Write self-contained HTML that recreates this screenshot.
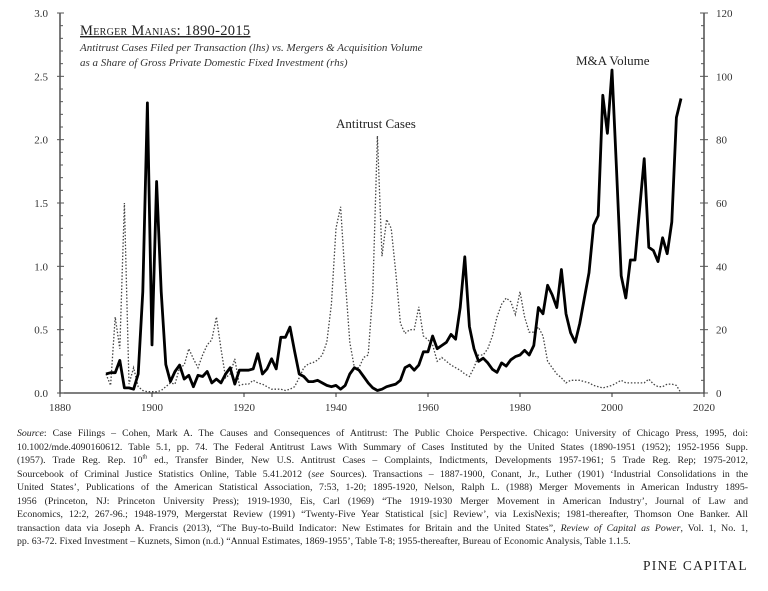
<!DOCTYPE html>
<html><head><meta charset="utf-8"><style>
body{margin:0;background:#fff;width:768px;height:591px;overflow:hidden;font-family:"Liberation Serif",serif;color:#222}
#src{position:absolute;left:17px;top:427px;width:731px;font-size:9.8px;line-height:13.5px}
#src div{text-align:justify;text-align-last:justify;white-space:nowrap;overflow:hidden;height:13.5px}
#src div.last{text-align-last:left}
#src sup{font-size:6px;line-height:0}
#brand{position:absolute;left:643px;top:558px;font-size:13.5px;letter-spacing:1.3px}
</style></head><body>
<svg id="chart" width="768" height="420" style="position:absolute;left:0;top:0" font-family="Liberation Serif, serif"></svg>
<div id="src">
<div><i>Source</i>: Case Filings – Cohen, Mark A. The Causes and Consequences of Antitrust: The Public Choice Perspective. Chicago: University of Chicago Press, 1995, doi:</div>
<div>10.1002/mde.4090160612. Table 5.1, pp. 74. The Federal Antitrust Laws With Summary of Cases Instituted by the United States (1890-1951 (1952); 1952-1956 Supp.</div>
<div>(1957). Trade Reg. Rep. 10<sup>th</sup> ed., Transfer Binder, New U.S. Antitrust Cases – Complaints, Indictments, Developments 1957-1961; 5 Trade Reg. Rep; 1975-2012,</div>
<div>Sourcebook of Criminal Justice Statistics Online, Table 5.41.2012 (<i>see</i> Sources). Transactions – 1887-1900, Conant, Jr., Luther (1901) ‘Industrial Consolidations in the</div>
<div>United States’, Publications of the American Statistical Association, 7:53, 1-20; 1895-1920, Nelson, Ralph L. (1988) Merger Movements in American Industry 1895-</div>
<div>1956 (Princeton, NJ: Princeton University Press); 1919-1930, Eis, Carl (1969) “The 1919-1930 Merger Movement in American Industry’, Journal of Law and</div>
<div>Economics, 12:2, 267-96.; 1948-1979, Mergerstat Review (1991) “Twenty-Five Year Statistical [sic] Review’, via LexisNexis; 1981-thereafter, Thomson One Banker. All</div>
<div>transaction data via Joseph A. Francis (2013), “The Buy-to-Build Indicator: New Estimates for Britain and the United States”, <i>Review of Capital as Power</i>, Vol. 1, No. 1,</div>
<div class="last">pp. 63-72. Fixed Investment – Kuznets, Simon (n.d.) “Annual Estimates, 1869-1955’, Table T-8; 1955-thereafter, Bureau of Economic Analysis, Table 1.1.5.</div>
</div>
<div id="brand">PINE CAPITAL</div>
<script>
const startYear = 1890;
const maVolume = [6,6.4,6.4,10.3,1.6,1.6,1.2,6,32,91.6,15.2,66.8,32,9,3.6,6.8,8.8,4.4,5.6,2,5.6,5.2,6.8,3.2,4.4,3.2,6,8,2.8,7.2,7.2,7.2,7.6,12.4,6,7.6,10.8,7.6,17.6,17.6,20.8,13.2,6,5.2,3.6,3.6,4,3.2,2.4,2,2.4,1.2,2.4,6,8,7.2,5.2,3.2,1.6,0.8,1.2,2,2.4,2.8,4,8,8.8,7.2,8.8,13,13,18,14,15,16,18.5,17,27,43,21,14,10,11,9.5,7.5,6.5,9.5,8.5,10.5,11.5,12,13.5,12,15,27,25,34,31,27,39,25,19,16,22,30,38,53,56,94,82,102,70,37,30,42,42,58,74,46,45,41.5,49,44,54,87,93];
const antitrust = [0.15,0.06,0.6,0.35,1.5,0.07,0.2,0.05,0.02,0.01,0.01,0.01,0.02,0.05,0.08,0.07,0.2,0.22,0.35,0.27,0.2,0.3,0.38,0.42,0.6,0.35,0.12,0.15,0.27,0.06,0.07,0.07,0.1,0.08,0.07,0.05,0.03,0.03,0.03,0.02,0.03,0.05,0.12,0.2,0.23,0.24,0.26,0.3,0.4,0.7,1.3,1.47,0.9,0.4,0.2,0.2,0.28,0.3,0.8,2.03,1.08,1.37,1.3,0.95,0.55,0.47,0.5,0.5,0.68,0.45,0.42,0.38,0.25,0.28,0.25,0.22,0.2,0.18,0.15,0.13,0.2,0.3,0.3,0.35,0.45,0.6,0.7,0.75,0.72,0.62,0.8,0.6,0.48,0.48,0.52,0.45,0.25,0.2,0.15,0.12,0.08,0.1,0.1,0.1,0.09,0.08,0.06,0.05,0.04,0.05,0.06,0.08,0.1,0.08,0.08,0.08,0.08,0.08,0.11,0.07,0.05,0.05,0.07,0.07,0.06,0.0];
const xTicks = [1880,1900,1920,1940,1960,1980,2000,2020];
const leftTicks = [0,0.5,1.0,1.5,2.0,2.5,3.0];
const rightTicks = [0,20,40,60,80,100,120];

const NS="http://www.w3.org/2000/svg", svg=document.getElementById('chart');
const X0=60,X1=704,Y0=393,Y1=13;
const x=y=>X0+(y-1880)/140*(X1-X0);
const yl=v=>Y0-v/3*(Y0-Y1);
const yr=v=>Y0-v/120*(Y0-Y1);
function mk(t,a,p){const e=document.createElementNS(NS,t);for(const k in a)e.setAttribute(k,a[k]);(p||svg).appendChild(e);return e;}
let e;
e=mk('line',{x1:X0,y1:Y1,x2:X0,y2:Y0,stroke:'#333','stroke-width':1.3});


e=mk('line',{x1:X1,y1:Y1,x2:X1,y2:Y0,stroke:'#333','stroke-width':1.3});


e=mk('line',{x1:X0,y1:Y0,x2:X1,y2:Y0,stroke:'#333','stroke-width':1.3});


for(let i=0;i<=30;i++){const v=i/10,big=i%5==0;
 mk('line',{x1:X0-(big?3:0),y1:yl(v),x2:X0+(big?4:3),y2:yl(v),stroke:'#555','stroke-width':1});
 mk('line',{x1:X1-(big?4:3),y1:yl(v),x2:X1+(big?4:0),y2:yl(v),stroke:'#555','stroke-width':1});}
leftTicks.forEach(v=>{e=mk('text',{x:X0-12,y:yl(v)+4,'text-anchor':'end','font-size':11,fill:'#333'});e.textContent=v.toFixed(1);

});
rightTicks.forEach(v=>{e=mk('text',{x:X1+12,y:yr(v)+4,'font-size':11,fill:'#333'});e.textContent=v;

});
xTicks.forEach(t=>{mk('line',{x1:x(t),y1:Y0,x2:x(t),y2:Y0+4,stroke:'#333'});
e=mk('text',{x:x(t),y:Y0+18,'text-anchor':'middle','font-size':11,fill:'#333'});e.textContent=t;

});
e=mk('path',{d:antitrust.map((v,i)=>(i?'L':'M')+x(startYear+i).toFixed(1)+','+yl(v).toFixed(1)).join(''),fill:'none',stroke:'#444','stroke-width':1.3,'stroke-dasharray':'1.5,1.8'});


e=mk('path',{d:maVolume.map((v,i)=>(i?'L':'M')+x(startYear+i).toFixed(1)+','+yr(v).toFixed(1)).join(''),fill:'none',stroke:'#000','stroke-width':2.8,'stroke-linejoin':'round'});


e=mk('text',{x:336,y:128,'font-size':13,fill:'#222'});e.textContent='Antitrust Cases';


e=mk('text',{x:576,y:65,'font-size':13,fill:'#222'});e.textContent='M&A Volume';


e=mk('text',{x:80,y:35,'font-size':14.5,fill:'#222','text-decoration':'underline','letter-spacing':0.3,style:'font-variant:small-caps'});e.textContent='Merger Manias: 1890-2015';


e=mk('text',{x:80,y:51,'font-size':11,'font-style':'italic',fill:'#333'});e.textContent='Antitrust Cases Filed per Transaction (lhs) vs. Mergers & Acquisition Volume';


e=mk('text',{x:80,y:66,'font-size':11,'font-style':'italic',fill:'#333'});e.textContent='as a Share of Gross Private Domestic Fixed Investment (rhs)';


</script>
</body></html>
